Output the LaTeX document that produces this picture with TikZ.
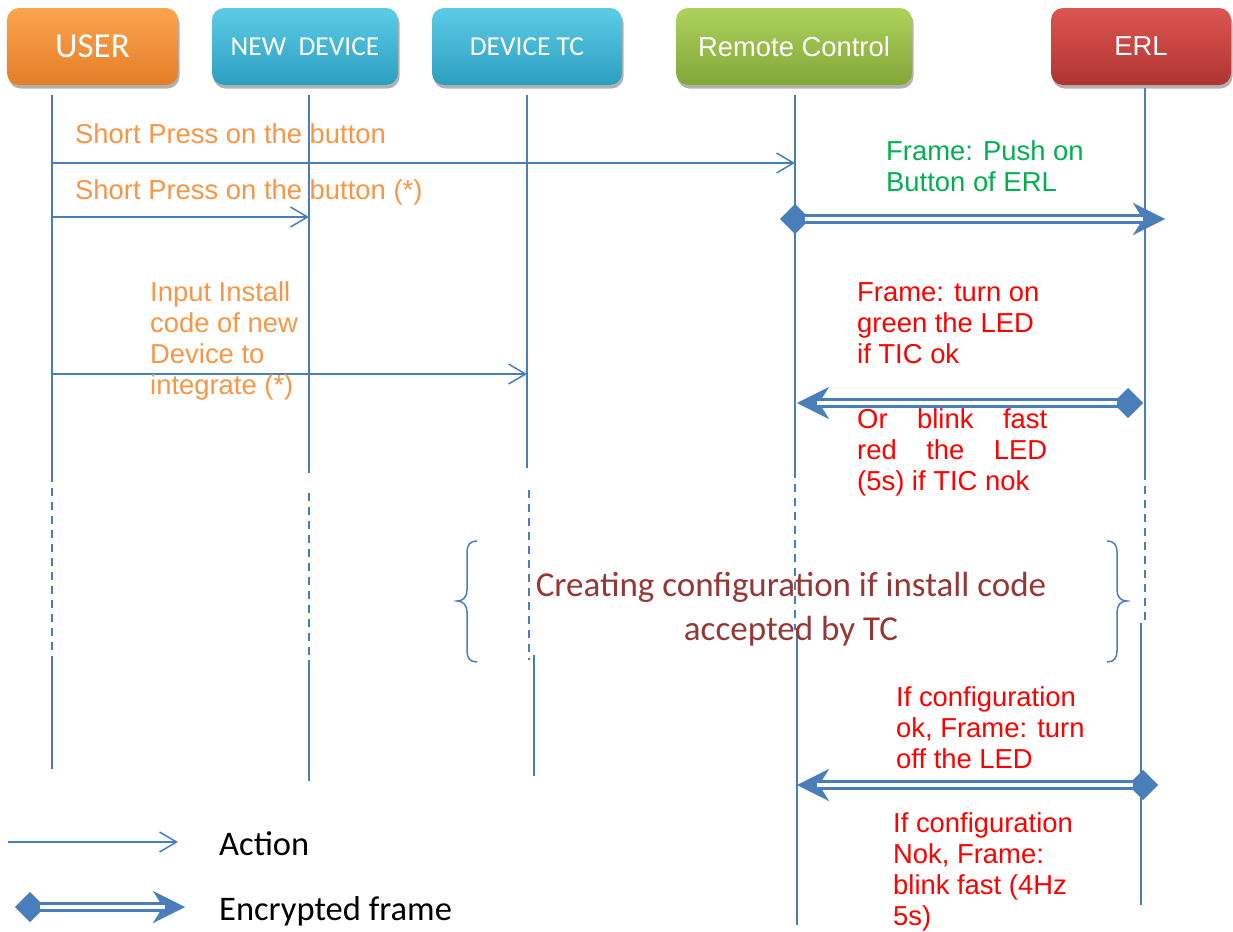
\documentclass[tikz,border=0pt]{standalone}
\usepackage{fontspec}
\setmainfont{Liberation Sans}
\newfontfamily\calib{Carlito}
\usetikzlibrary{arrows.meta,shadows}

\definecolor{lblue}{HTML}{4A7EBB}
\definecolor{orT}{HTML}{FCA44E}
\definecolor{orB}{HTML}{E47E27}
\definecolor{aqT}{HTML}{5CCBE6}
\definecolor{aqB}{HTML}{2C9FC0}
\definecolor{grT}{HTML}{ACD25C}
\definecolor{grB}{HTML}{84A63A}
\definecolor{rdT}{HTML}{DC5552}
\definecolor{rdB}{HTML}{B03431}
\definecolor{otxt}{HTML}{F79646}
\definecolor{gtxt}{HTML}{00B050}
\definecolor{rtxt}{HTML}{FF0000}
\definecolor{dred}{HTML}{953735}

\tikzset{
  hdr/.style={rounded corners=12bp, minimum height=77bp, inner sep=0pt,
    text=white, font=\fontsize{27.4bp}{32bp}\selectfont,
    drop shadow={shadow xshift=1.5bp, shadow yshift=-3.5bp, opacity=0.3, fill=black}},
  life/.style={draw=lblue, line width=1.5bp},
  lifedash/.style={life, dash pattern=on 8bp off 6bp},
  act/.style={draw=lblue, line width=1.5bp,
    -{Straight Barb[length=17bp, width=20bp, line width=1.5bp]}},
  enc/.style={draw=lblue, line width=10bp,
    {Diamond[length=30bp, width=30bp, line width=0.1bp]}-{Stealth[length=32bp, width=32bp, inset=10bp, line width=0.1bp]}},
  encore/.style={draw=white, line width=3.5bp},
  lbl/.style={inner sep=0pt, font=\fontsize{27.4bp}{31.3bp}\selectfont},
  txtblock/.style={lbl, anchor=north west, align=left},
  legtxt/.style={inner sep=0pt, anchor=base west, font=\calib\fontsize{34.5bp}{40bp}\selectfont},
  brc/.style={draw=lblue, line width=1.5bp}
}

\begin{document}
\begin{tikzpicture}[x=1bp, y=-1bp]
\useasboundingbox (0,0) rectangle (1233,932);

% participants
\node[hdr, top color=orT, bottom color=orB, minimum width=171bp,
      font=\fontsize{35bp}{40bp}\selectfont] (user) at (92.5,46.5) {\calib USER};
\node[hdr, top color=aqT, bottom color=aqB, minimum width=186bp] (newdev) at (305,46.5) {\calib NEW\ \ DEVICE};
\node[hdr, top color=aqT, bottom color=aqB, minimum width=190bp] (devtc) at (527,46.5) {\calib DEVICE TC};
\node[hdr, top color=grT, bottom color=grB, minimum width=236bp] (rc) at (794,46.5) {Remote Control};
\node[hdr, top color=rdT, bottom color=rdB, minimum width=180bp] (erl) at (1141,46.5) {ERL};

% lifeline break points
\coordinate (u0) at (52,95);   \coordinate (u1) at (52,474);  \coordinate (u2) at (52,660);  \coordinate (u3) at (52,769);
\coordinate (n0) at (309,95);  \coordinate (n1) at (309,473); \coordinate (n2) at (309,493); \coordinate (n3) at (309,660); \coordinate (n4) at (309,781);
\coordinate (d0) at (527,95);  \coordinate (d1) at (527,468); \coordinate (d2) at (529,490); \coordinate (d3) at (529,660);
\coordinate (d4) at (534,655); \coordinate (d5) at (534,776);
\coordinate (r0) at (795,95);  \coordinate (r1) at (795,470); \coordinate (r2) at (795,630); \coordinate (r3) at (797,628); \coordinate (r4) at (797,925);
\coordinate (e0) at (1145,88); \coordinate (e1) at (1145,472); \coordinate (e2) at (1145,623);
\coordinate (e3) at (1141,623); \coordinate (e4) at (1141,905);

% lifelines
\draw[life] (u0) -- (u1); \draw[lifedash] (u1) -- (u2); \draw[life] (u2) -- (u3);
\draw[life] (n0) -- (n1); \draw[lifedash] (n2) -- (n3); \draw[life] (n3) -- (n4);
\draw[life] (d0) -- (d1); \draw[lifedash] (d2) -- (d3); \draw[life] (d4) -- (d5);
\draw[life] (r0) -- (r1); \draw[lifedash] (r1) -- (r2); \draw[life] (r3) -- (r4);
\draw[life] (e0) -- (e1); \draw[lifedash] (e1) -- (e2); \draw[life] (e3) -- (e4);

% message anchor points on the lifelines
\coordinate (uA) at (52,163);  \coordinate (rA) at (795,163);
\coordinate (uB) at (52,217);  \coordinate (nB) at (309,217);
\coordinate (uC) at (52,374);  \coordinate (dC) at (527,374);
\coordinate (rE1) at (795,219);  \coordinate (eE1) at (1143,219);
\coordinate (eE2) at (1143,403); \coordinate (rE2) at (797,403);
\coordinate (eE3) at (1143,785); \coordinate (rE3) at (797,785);

% actions
\draw[act] (uA) -- (rA);
\draw[act] (uB) -- (nB);
\draw[act] (uC) -- (dC);

% encrypted frames
\draw[enc, shorten <=-15bp, shorten >=-22bp] (rE1) -- (eE1);
\draw[encore, shorten <=10bp] (rE1) -- (eE1);
\draw[enc] (eE2) -- (rE2);
\draw[encore, shorten <=26bp, shorten >=20bp] (eE2) -- (rE2);
\draw[enc, shorten <=-15bp] (eE3) -- (rE3);
\draw[encore, shorten <=10bp, shorten >=20bp] (eE3) -- (rE3);

% labels
\node[lbl, text=otxt, anchor=base west] (l1) at (75,143) {Short Press on the button};
\node[lbl, text=otxt, anchor=base west] (l2) at (75,199) {Short Press on the button (*)};
\node[txtblock, text=otxt] (l3) at (150,281) {Input Install\\code of new\\Device to\\integrate (*)};
\node[txtblock, text=gtxt] (l4) at (886,140) {Frame: Push on\\Button of ERL};
\node[txtblock, text=rtxt] (l5) at (857,282) {Frame: turn on\\green the LED\\if TIC ok};
\node[txtblock, text=rtxt] (l6) at (857,408) {\makebox[190bp][s]{Or blink fast}\\\makebox[190bp][s]{red the LED}\\(5s) if TIC nok};
\node[txtblock, text=rtxt] (l7) at (896,686) {If configuration\\ok, Frame: turn\\off the LED};
\node[txtblock, text=rtxt] (l8) at (893,812) {If configuration\\Nok, Frame:\\blink fast (4Hz\\5s)};

% configuration phase
\node[inner sep=0pt, anchor=north, align=center, text=dred,
      font=\calib\fontsize{35bp}{44bp}\selectfont] (cfg) at (791,572)
      {Creating configuration if install code\\accepted by TC};
\draw[brc] (477,541) .. controls (470,541) and (467,545) .. (467,552) -- (467,590)
  .. controls (467,597) and (463,601) .. (457,601)
  .. controls (463,601) and (467,605) .. (467,612) -- (467,651)
  .. controls (467,658) and (470,662) .. (477,662);
\draw[brc] (1107,541) .. controls (1114,541) and (1117,545) .. (1117,552) -- (1117,590)
  .. controls (1117,597) and (1121,601) .. (1127,601)
  .. controls (1121,601) and (1117,605) .. (1117,612) -- (1117,651)
  .. controls (1117,658) and (1114,662) .. (1107,662);

% legend
\coordinate (g1) at (8,842);  \coordinate (g2) at (178,842);
\coordinate (g3) at (15,907); \coordinate (g4) at (185,907);
\draw[act] (g1) -- (g2);
\draw[enc] (g3) -- (g4);
\draw[encore, shorten <=25bp, shorten >=20bp] (g3) -- (g4);
\node[legtxt] (la) at (219,855) {Action};
\node[legtxt] (lb) at (219,920) {Encrypted frame};
\end{tikzpicture}
\end{document}
